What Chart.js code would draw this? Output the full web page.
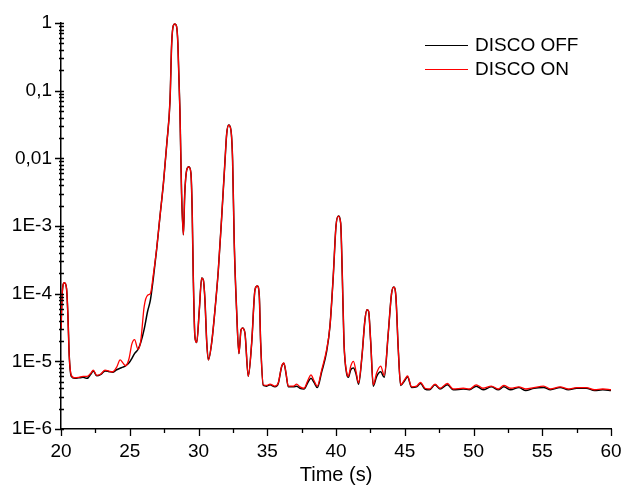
<!DOCTYPE html>
<html>
<head>
<meta charset="utf-8">
<script src="https://cdn.jsdelivr.net/npm/chart.js"></script>
<style>
  html, body { margin: 0; padding: 0; background: #fff; }
  #wrap { width: 623px; height: 487px; }
</style>
</head>
<body>
<div id="wrap"><canvas id="chartCanvas"></canvas></div>
<script>
// time axis (s)
const timeS = [
  20.0, 20.1, 20.25, 20.4, 20.5, 20.6, 20.75, 21.0, 21.3, 21.6,
  21.9, 22.15, 22.35, 22.6, 22.9, 23.2, 23.45, 23.75, 24.05, 24.3,
  24.5, 24.7, 24.95, 25.15, 25.35, 25.6, 25.8, 26.05, 26.3, 26.5,
  26.7, 26.95, 27.2, 27.45, 27.7, 27.93, 28.05, 28.17, 28.29, 28.4,
  28.5, 28.65, 28.77, 28.9, 29.0, 29.14, 29.3, 29.45, 29.54, 29.62,
  29.74, 29.87, 30.06, 30.23, 30.35, 30.47, 30.6, 30.72, 30.96, 31.2,
  31.44, 31.69, 31.93, 32.05, 32.2, 32.36, 32.48, 32.6, 32.77, 32.94,
  33.09, 33.2, 33.38, 33.62, 33.87, 34.11, 34.28, 34.42, 34.52, 34.71,
  34.96, 35.2, 35.56, 35.8, 36.05, 36.21, 36.36, 36.53, 36.9, 37.14,
  37.38, 37.67, 37.98, 38.18, 38.4, 38.64, 38.96, 39.32, 39.56, 39.8,
  40.0, 40.17, 40.34, 40.46, 40.58, 40.78, 40.9, 41.07, 41.27, 41.46,
  41.64, 41.89, 42.1, 42.25, 42.37, 42.52, 42.71, 42.96, 43.25, 43.51,
  43.8, 44.04, 44.2, 44.35, 44.53, 44.7, 45.0, 45.2, 45.5, 45.86,
  46.15, 46.47, 46.8, 47.2, 47.56, 48.1, 48.53, 49.26, 49.7, 50.2,
  50.7, 51.3, 51.8, 52.2, 52.7, 53.3, 53.8, 54.4, 55.1, 55.6,
  56.3, 56.9, 57.5, 58.2, 58.8, 59.4, 60.0
];

const discoOff = [
  3.0e-5, 1.1e-4, 1.45e-4, 1.2e-4, 5.0e-5, 1.2e-5, 6.0e-6, 5.6e-6, 5.7e-6, 5.8e-6,
  5.6e-6, 6.4e-6, 7.2e-6, 6.1e-6, 6.4e-6, 7.2e-6, 7.1e-6, 6.9e-6, 7.5e-6, 7.9e-6,
  8.2e-6, 8.6e-6, 9.5e-6, 1.1e-5, 1.3e-5, 1.5e-5, 1.9e-5, 3.0e-5, 5.5e-5, 8.0e-5,
  1.6e-4, 4.4e-4, 1.4e-3, 4.3e-3, 0.017, 0.073, 0.5, 0.92, 0.97, 0.9,
  0.5, 0.05, 3.0e-3, 7.4e-4, 3.0e-3, 6.7e-3, 7.5e-3, 6.0e-3, 1.7e-3, 1.8e-4,
  2.3e-5, 1.9e-5, 5.8e-5, 1.7e-4, 1.6e-4, 8.0e-5, 1.9e-5, 1.05e-5, 1.9e-5, 5.8e-5,
  2.2e-4, 1.4e-3, 9.4e-3, 0.023, 0.031, 0.026, 9.4e-3, 5.6e-4, 5.8e-5, 1.3e-5,
  2.9e-5, 3.1e-5, 2.6e-5, 6.0e-6, 1.9e-5, 1.15e-4, 1.3e-4, 9.4e-5, 1.9e-5, 4.4e-6,
  4.3e-6, 4.5e-6, 4.2e-6, 4.7e-6, 8.4e-6, 9.4e-6, 6.7e-6, 4.2e-6, 4.2e-6, 4.3e-6,
  4.0e-6, 3.9e-6, 5.0e-6, 5.6e-6, 4.9e-6, 4.1e-6, 7.0e-6, 1.4e-5, 3.3e-5, 1.8e-4,
  1.0e-3, 1.4e-3, 1.1e-3, 1.8e-4, 1.9e-5, 6.5e-6, 5.8e-6, 7.5e-6, 8.0e-6, 6.5e-6,
  4.6e-6, 1.2e-5, 4.0e-5, 5.8e-5, 5.5e-5, 2.0e-5, 4.3e-6, 6.0e-6, 7.0e-6, 5.8e-6,
  2.6e-5, 1.0e-4, 1.25e-4, 9.4e-5, 1.5e-5, 4.4e-6, 5.2e-6, 5.9e-6, 4.1e-6, 4.2e-6,
  4.7e-6, 3.9e-6, 3.8e-6, 4.5e-6, 3.9e-6, 4.5e-6, 3.8e-6, 3.9e-6, 3.8e-6, 4.3e-6,
  3.8e-6, 4.2e-6, 3.8e-6, 4.2e-6, 3.8e-6, 4.1e-6, 3.7e-6, 4.0e-6, 4.1e-6, 3.8e-6,
  4.1e-6, 3.8e-6, 4.0e-6, 4.0e-6, 3.7e-6, 3.8e-6, 3.7e-6
];

const discoOn = [
  3.0e-5, 1.1e-4, 1.45e-4, 1.2e-4, 5.0e-5, 1.2e-5, 6.2e-6, 5.7e-6, 5.8e-6, 6.0e-6,
  6.0e-6, 6.6e-6, 7.4e-6, 6.2e-6, 6.5e-6, 7.4e-6, 7.2e-6, 7.0e-6, 8.2e-6, 1.05e-5,
  9.5e-6, 8.6e-6, 1.1e-5, 1.8e-5, 2.1e-5, 1.5e-5, 2.0e-5, 6.5e-5, 9.5e-5, 1.0e-4,
  1.8e-4, 4.5e-4, 1.4e-3, 4.3e-3, 0.017, 0.073, 0.5, 0.92, 0.97, 0.9,
  0.5, 0.05, 3.0e-3, 7.4e-4, 3.0e-3, 6.7e-3, 7.5e-3, 6.0e-3, 1.7e-3, 1.8e-4,
  2.3e-5, 1.9e-5, 5.8e-5, 1.7e-4, 1.6e-4, 8.0e-5, 1.9e-5, 1.05e-5, 1.9e-5, 5.8e-5,
  2.2e-4, 1.4e-3, 9.4e-3, 0.023, 0.031, 0.026, 9.4e-3, 5.6e-4, 5.8e-5, 1.3e-5,
  2.9e-5, 3.1e-5, 2.6e-5, 6.0e-6, 1.9e-5, 1.15e-4, 1.3e-4, 9.4e-5, 1.9e-5, 4.5e-6,
  4.4e-6, 4.6e-6, 4.3e-6, 4.8e-6, 8.5e-6, 9.5e-6, 6.8e-6, 4.3e-6, 4.3e-6, 4.6e-6,
  4.2e-6, 4.0e-6, 5.4e-6, 6.3e-6, 5.2e-6, 4.3e-6, 7.5e-6, 1.5e-5, 3.3e-5, 1.8e-4,
  1.0e-3, 1.4e-3, 1.1e-3, 1.8e-4, 1.9e-5, 6.8e-6, 6.0e-6, 8.5e-6, 1.0e-5, 7.0e-6,
  4.8e-6, 1.2e-5, 4.0e-5, 5.8e-5, 5.5e-5, 2.0e-5, 4.5e-6, 6.8e-6, 8.5e-6, 6.2e-6,
  2.6e-5, 1.0e-4, 1.25e-4, 9.4e-5, 1.5e-5, 4.5e-6, 5.4e-6, 6.1e-6, 4.2e-6, 4.3e-6,
  4.9e-6, 4.0e-6, 3.9e-6, 4.6e-6, 4.0e-6, 4.7e-6, 3.9e-6, 4.0e-6, 3.9e-6, 4.5e-6,
  4.0e-6, 4.3e-6, 3.9e-6, 4.4e-6, 4.0e-6, 4.2e-6, 3.9e-6, 4.1e-6, 4.3e-6, 3.9e-6,
  4.2e-6, 3.9e-6, 4.1e-6, 4.1e-6, 3.8e-6, 3.9e-6, 3.8e-6
];

const seriesNames = ['DISCO OFF', 'DISCO ON'];
const seriesColors = ['#000000', '#ff0000'];

const xTickValues = [20, 25, 30, 35, 40, 45, 50, 55, 60];
const yTickValues = [1e-6, 1e-5, 1e-4, 1e-3, 1e-2, 1e-1, 1];
const yTickLabels = ['1E-6', '1E-5', '1E-4', '1E-3', '0,01', '0,1', '1'];

const FONT = "'Liberation Sans', Arial, Helvetica, sans-serif";

// tick marks like the original plot (major outside, minor crossing)
const tickMarks = {
  id: 'tickMarks',
  afterDraw(chart) {
    const ctx = chart.ctx;
    const xs = chart.scales.x, ys = chart.scales.y;
    const a = chart.chartArea;
    ctx.save();
    ctx.strokeStyle = '#000';
    ctx.lineWidth = 1.3;
    ctx.beginPath();
    for (let v = xs.min; v <= xs.max + 1e-9; v += 2.5) {
      const px = Math.round(xs.getPixelForValue(v)) + 0.5;
      const major = Math.abs(v / 5 - Math.round(v / 5)) < 1e-6;
      ctx.moveTo(px, a.bottom);
      ctx.lineTo(px, a.bottom + (major ? 7 : 4));
    }
    for (let e = -6; e <= 0; e++) {
      for (let m = 1; m <= 9; m++) {
        const v = m * Math.pow(10, e);
        if (v > ys.max * 1.0001) break;
        const py = Math.round(ys.getPixelForValue(v)) + 0.5;
        if (m === 1) {
          ctx.moveTo(a.left - 6, py);
          ctx.lineTo(a.left + 3, py);
        } else {
          ctx.moveTo(a.left - 2, py);
          ctx.lineTo(a.left + 3, py);
        }
      }
    }
    ctx.stroke();

    // legend
    ctx.font = '19px ' + FONT;
    ctx.textBaseline = 'middle';
    ctx.textAlign = 'left';
    chart.data.datasets.forEach((ds, i) => {
      const y = 45 + i * 24;
      ctx.strokeStyle = ds.borderColor;
      ctx.lineWidth = 1.2;
      ctx.beginPath();
      ctx.moveTo(425, y + 0.5);
      ctx.lineTo(468, y + 0.5);
      ctx.stroke();
      ctx.fillStyle = '#000';
      ctx.fillText(ds.label, 475, y + 1);
    });
    ctx.restore();
  }
};

const canvas = document.getElementById('chartCanvas');
new Chart(canvas.getContext('2d'), {
  type: 'line',
  data: {
    datasets: [
      {
        label: seriesNames[0],
        data: timeS.map((t, i) => ({ x: t, y: discoOff[i] })),
        borderColor: seriesColors[0],
        borderWidth: 1.5,
        order: 1
      },
      {
        label: seriesNames[1],
        data: timeS.map((t, i) => ({ x: t, y: discoOn[i] })),
        borderColor: seriesColors[1],
        borderWidth: 1.3,
        order: 0
      }
    ]
  },
  options: {
    responsive: true,
    maintainAspectRatio: false,
    animation: false,
    layout: { padding: { top: 23, right: 12, left: 0, bottom: 0 } },
    elements: {
      point: { radius: 0 },
      line: { cubicInterpolationMode: 'monotone', fill: false }
    },
    plugins: {
      legend: { display: false },
      tooltip: { enabled: false }
    },
    scales: {
      x: {
        type: 'linear',
        min: 20,
        max: 60,
        afterBuildTicks: (scale) => { scale.ticks = xTickValues.map(v => ({ value: v })); },
        afterFit: (scale) => {
          scale.height = 58;
          scale.paddingLeft = 0;
          scale.paddingRight = 0;
        },
        grid: { display: false, drawTicks: false },
        border: { display: true, color: '#000', width: 1.5 },
        ticks: {
          color: '#000',
          font: { family: FONT, size: 19 },
          padding: 11,
          maxRotation: 0
        },
        title: {
          display: true,
          text: 'Time (s)',
          color: '#000',
          font: { family: FONT, size: 20 },
          padding: { top: 0, bottom: 0 }
        }
      },
      y: {
        type: 'logarithmic',
        min: 1e-6,
        max: 1,
        afterBuildTicks: (scale) => { scale.ticks = yTickValues.map(v => ({ value: v })); },
        afterFit: (scale) => {
          scale.width = 61;
          scale.paddingTop = 0;
          scale.paddingBottom = 0;
        },
        grid: { display: false, drawTicks: false },
        border: { display: true, color: '#000', width: 1.5 },
        ticks: {
          color: '#000',
          font: { family: FONT, size: 19 },
          padding: 9,
          callback: (value) => {
            const i = yTickValues.findIndex(v => Math.abs(Math.log10(v) - Math.log10(value)) < 1e-6);
            return i >= 0 ? yTickLabels[i] : '';
          }
        }
      }
    }
  },
  plugins: [tickMarks]
});
</script>
</body>
</html>
